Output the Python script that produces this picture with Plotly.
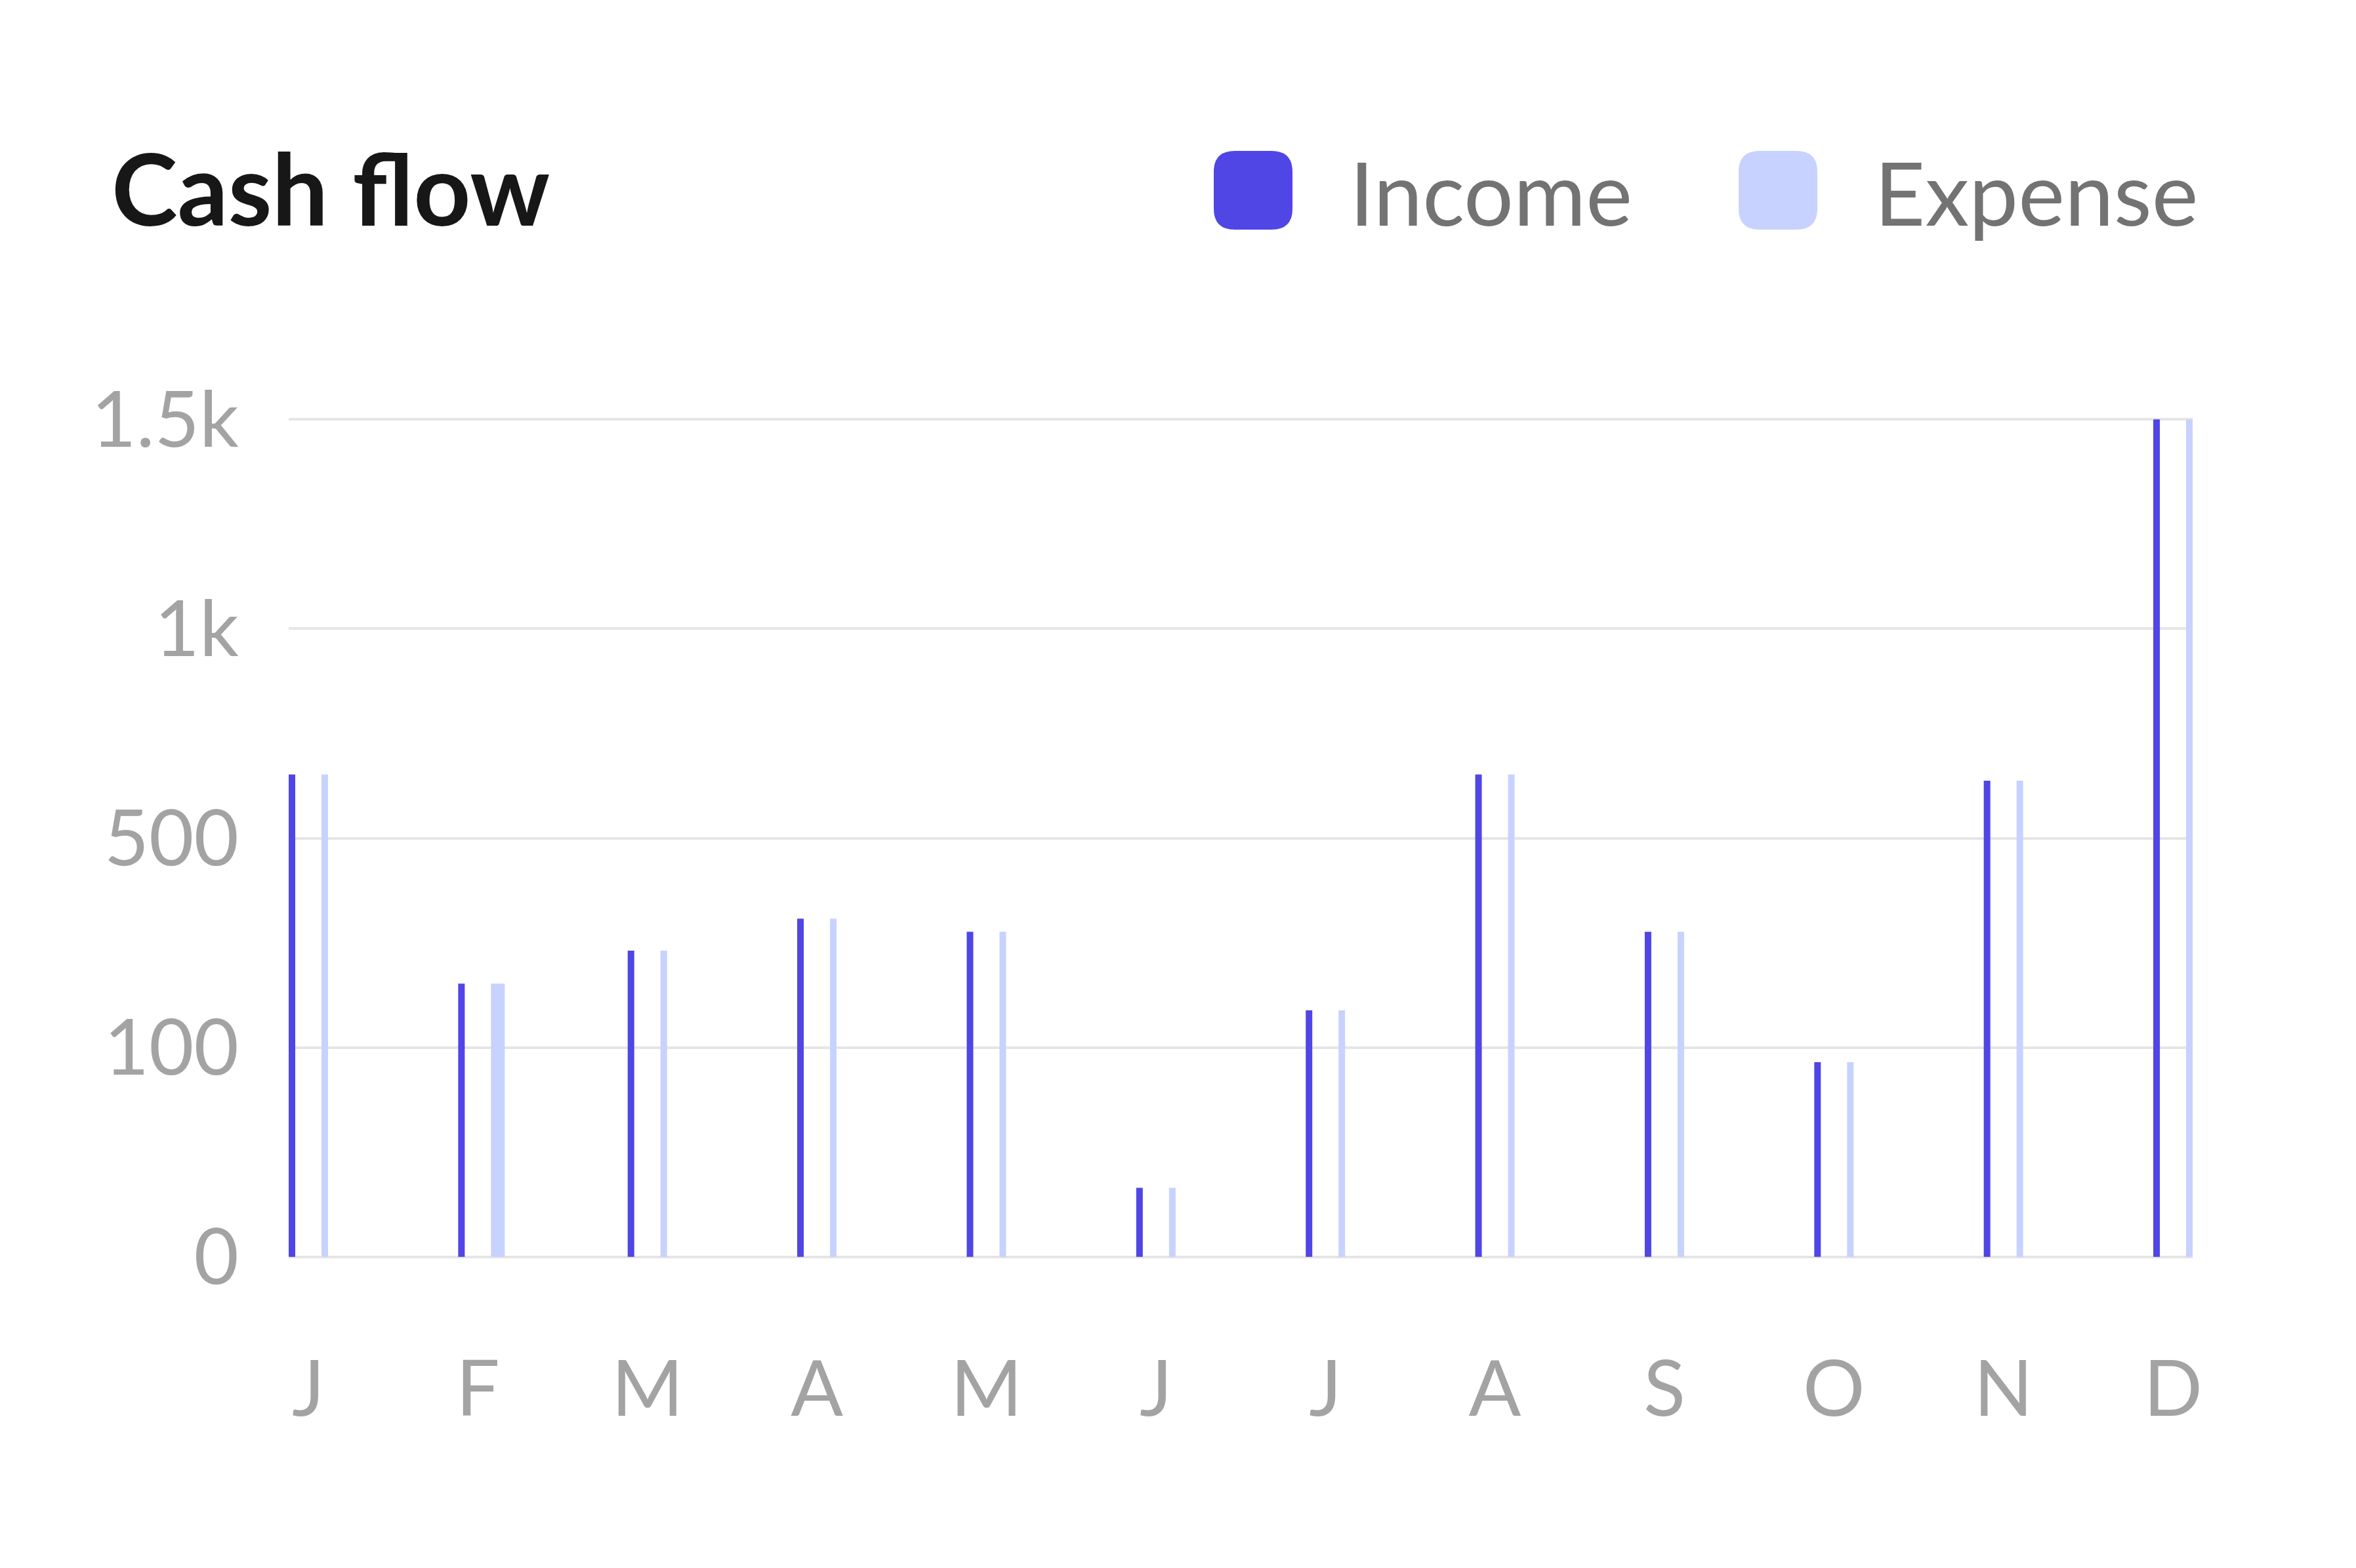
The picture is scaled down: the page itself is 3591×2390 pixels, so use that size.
import numpy as np
import plotly.graph_objects as go

# dados
months = ["J", "F", "M", "A", "M", "J", "J", "A", "S", "O", "N", "D"]
income = [652, 222, 285, 346, 321, 33, 171, 652, 321, 93, 637, 1500]
expense = [652, 222, 285, 346, 321, 33, 171, 652, 321, 93, 637, 1500]

# eixo y não linear: os ticks ficam igualmente espaçados
tick_values = [0, 100, 500, 1000, 1500]
tick_labels = ["0", "100", "500", "1k", "1.5k"]

INCOME_COLOR = "#4F46E5"
EXPENSE_COLOR = "#C7D2FE"
FONT = "Lato"

# geometria (px da página); a página html tem margem de 8px no body
PAGE_W, PAGE_H = 3591, 2390
BODY = 8
W, H = PAGE_W - 2 * BODY, PAGE_H - 2 * BODY
PLOT_X0, PLOT_X1 = 440, 3342
PLOT_Y0, PLOT_Y1 = 638, 1917
L, T = PLOT_X0 - BODY, PLOT_Y0 - BODY
R, B = W - (PLOT_X1 - BODY), H - (PLOT_Y1 - BODY)
PLOT_W = PLOT_X1 - PLOT_X0
PLOT_H = PLOT_Y1 - PLOT_Y0
SLOT = 258.4  # px por mês


def px_x(p):
    return (p - PLOT_X0) / PLOT_W


def px_y(p):
    return (PLOT_Y1 - p) / PLOT_H


def u(p):
    # px -> unidades do eixo x
    return p / SLOT


x = np.arange(len(months))
tick_pos = np.arange(len(tick_values))
income_pos = np.interp(income, tick_values, tick_pos)
expense_pos = np.interp(expense, tick_values, tick_pos)

exp_width = [u(10)] * len(months)
exp_width[1] = u(21)  # barra de fevereiro destacada (mais larga)

fig = go.Figure()
fig.add_trace(go.Bar(
    x=x, y=income_pos, customdata=income, name="Income",
    marker=dict(color=INCOME_COLOR, line=dict(width=0)),
    width=u(10), offset=u(-30),
    hovertemplate="%{customdata}<extra>Income</extra>",
))
fig.add_trace(go.Bar(
    x=x, y=expense_pos, customdata=expense, name="Expense",
    marker=dict(color=EXPENSE_COLOR, line=dict(width=0)),
    width=exp_width, offset=u(20),
    hovertemplate="%{customdata}<extra>Expense</extra>",
))

fig.update_layout(
    width=W, height=H,
    margin=dict(l=L, r=R, t=T, b=B, pad=0),
    paper_bgcolor="white",
    plot_bgcolor="white",
    showlegend=False,
    barmode="overlay",
    font=dict(family=FONT, color="#A3A3A3"),
    xaxis=dict(
        range=[u(-30), len(months) - 1 + u(30)],
        tickvals=x, ticktext=months,
        showgrid=False, zeroline=False, showline=False,
        ticks="", ticklabelstandoff=122,
        tickfont=dict(size=118, color="#A3A3A3", family=FONT),
        fixedrange=True,
    ),
    yaxis=dict(
        range=[-0.004, 4.004],
        tickvals=tick_pos, ticktext=tick_labels,
        showgrid=True, gridcolor="#E5E5E5", gridwidth=4,
        zeroline=False, showline=False,
        ticks="", ticklabelstandoff=75,
        tickfont=dict(size=118, color="#A3A3A3", family=FONT),
        fixedrange=True,
    ),
)

# título
fig.add_annotation(
    text="Cash flow", xref="paper", yref="paper",
    x=px_x(168), y=px_y(285), xanchor="left", yanchor="middle",
    showarrow=False,
    font=dict(family=FONT, size=152, color="#171717", weight=700),
)

# legenda manual com quadrados arredondados
def rounded_square(size, r):
    h = size / 2
    return (f"M {-h + r},{-h} L {h - r},{-h} Q {h},{-h} {h},{-h + r} "
            f"L {h},{h - r} Q {h},{h} {h - r},{h} L {-h + r},{h} "
            f"Q {-h},{h} {-h},{h - r} L {-h},{-h + r} Q {-h},{-h} {-h + r},{-h} Z")


legend_items = [("Income", INCOME_COLOR, 1910, 2055),
                ("Expense", EXPENSE_COLOR, 2710, 2855)]
for label, color, cx, tx in legend_items:
    fig.add_shape(
        type="path", xref="paper", yref="paper",
        xsizemode="pixel", ysizemode="pixel",
        xanchor=px_x(cx), yanchor=px_y(290),
        path=rounded_square(120, 32),
        fillcolor=color, line=dict(width=0),
    )
    fig.add_annotation(
        text=label, xref="paper", yref="paper",
        x=px_x(tx), y=px_y(292), xanchor="left", yanchor="middle",
        showarrow=False,
        font=dict(family=FONT, size=134, color="#737373"),
    )

fig.write_html("out.html")
